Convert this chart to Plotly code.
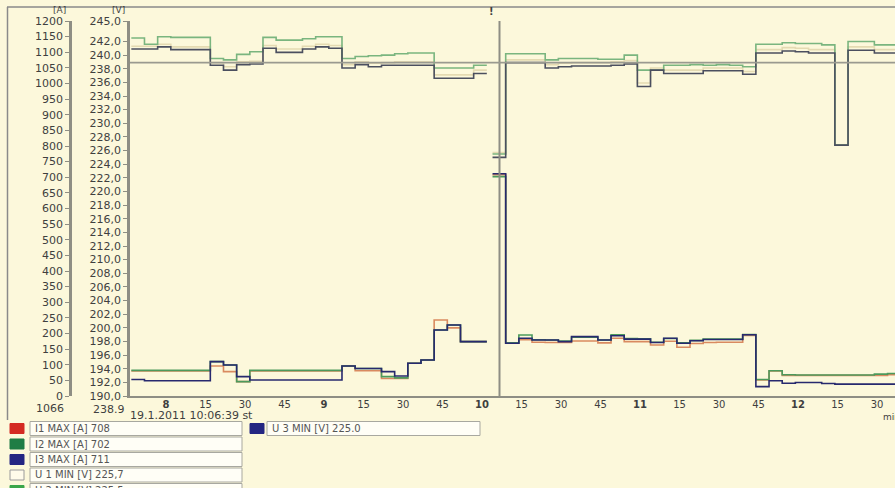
import plotly.graph_objects as go
import pandas as pd

# ---------------- data ----------------
left_start = "2011-01-19 07:46:50"   # first 5-min sample before the gap
right_start = "2011-01-19 10:04:00"  # first 5-min sample after the gap
sample_step = "5min"

# voltages [V] (left block: 27 samples, right block: 31 samples)
U1_left = [241.3, 241.3, 241.6, 241.2, 241.2, 241.2, 238.9, 238.3, 239.0, 239.1, 241.4, 240.9, 240.9, 241.3,
           241.6, 241.4, 238.6, 239.0, 238.8, 238.9, 239.0, 239.0, 239.0, 237.1, 237.1, 237.1, 237.8]
U2_left = [242.5, 241.6, 242.7, 242.6, 242.6, 242.6, 239.5, 239.3, 240.1, 240.5, 242.6, 242.2, 242.2, 242.4,
           242.7, 242.7, 239.5, 239.8, 239.9, 240.0, 240.2, 240.3, 240.3, 238.1, 238.1, 238.1, 238.5]
U3_left = [240.9, 240.9, 241.2, 240.8, 240.8, 240.8, 238.5, 237.8, 238.6, 238.7, 241.0, 240.4, 240.4, 240.9,
           241.2, 241.0, 238.1, 238.6, 238.3, 238.5, 238.5, 238.5, 238.5, 236.6, 236.6, 236.6, 237.3]
U1_right = [225.7, 239.3, 239.3, 239.3, 238.6, 238.8, 238.9, 238.9, 238.9, 239.0, 239.2, 235.9, 238.1, 237.8,
            237.8, 237.8, 238.1, 238.1, 238.1, 237.6, 240.8, 240.8, 241.1, 241.0, 240.8, 240.8, 226.8, 241.2,
            241.2, 240.8, 240.8]
U2_right = [225.5, 240.2, 240.2, 240.2, 239.3, 239.5, 239.5, 239.5, 239.4, 239.4, 240.0, 237.8, 237.8, 238.5,
            238.5, 238.6, 238.5, 238.6, 238.5, 238.3, 241.6, 241.6, 241.8, 241.7, 241.7, 241.5, 226.8, 242.0,
            242.0, 241.5, 241.5]
U3_right = [225.0, 238.9, 238.9, 238.9, 238.1, 238.3, 238.4, 238.4, 238.4, 238.5, 238.7, 235.4, 237.8, 237.3,
            237.3, 237.3, 237.7, 237.7, 237.7, 237.2, 240.3, 240.3, 240.6, 240.5, 240.3, 240.3, 226.8, 240.7,
            240.7, 240.3, 240.3]

# currents [A]
I1_left = [80, 80, 80, 80, 80, 80, 96, 78, 46, 80, 80, 80, 80, 80, 80, 80, 96, 81, 81, 56, 56, 105, 115, 243,
           218, 174, 174]
I2_left = [82, 82, 82, 82, 82, 82, 110, 99, 46, 82, 82, 82, 82, 82, 82, 82, 96, 88, 88, 62, 58, 105, 115, 211,
           227, 174, 174]
I3_left = [53, 49, 49, 49, 49, 49, 110, 99, 62, 51, 51, 51, 51, 51, 51, 51, 96, 88, 88, 78, 64, 105, 115, 211,
           227, 174, 174]
I1_right = [708, 169, 180, 172, 171, 171, 176, 176, 170, 185, 174, 174, 163, 175, 156, 168, 171, 172, 172, 194,
            51, 80, 66, 66, 66, 66, 66, 66, 66, 66, 68]
I2_right = [702, 170, 195, 180, 179, 176, 188, 188, 179, 196, 184, 183, 172, 184, 170, 178, 182, 182, 182, 197,
            53, 81, 68, 67, 67, 67, 67, 67, 67, 70, 72]
I3_right = [711, 169, 185, 179, 179, 174, 190, 190, 179, 193, 182, 182, 171, 185, 169, 177, 181, 181, 181, 196,
            30, 49, 41, 43, 43, 40, 38, 38, 38, 38, 38]

cursor_time = "2011-01-19 10:06:39"
cursor_A = 1066
cursor_V = 238.9
cursor_label = "19.1.2011 10:06:39 st"

legend_names = ["I1 MAX [A]", "I2 MAX [A]", "I3 MAX [A]", "U 1 MIN [V]", "U 2 MIN [V]", "U 3 MIN [V]"]
legend_values = ["708", "702", "711", "225,7", "225,5", "225.0"]
legend_swatch = ["#d42a22", "#1f7d45", "#242682", "#fffbea", "#3aa64a", "#242682"]

x_range = ["2011-01-19 07:46:20", "2011-01-19 12:36:50"]
tick_times = pd.date_range("2011-01-19 08:00", "2011-01-19 12:30", freq="15min")
tick_text = [f"<b>{t.hour}</b>" if t.minute == 0 else str(t.minute) for t in tick_times]
A_ticks = list(range(0, 1201, 50))
V_ticks = list(range(190, 243, 2)) + [245]
V_text = [f"{v:.1f}".replace(".", ",") for v in V_ticks]

# ---------------- layout helpers ----------------
W, H = 895, 488
MT, MB = 21, 92
PLOT_LEFT = 130
A_AXIS_X = 70


def px(x):
    return x / W


def py(y):
    return (H - MB - y) / (H - MT - MB)


BG = "#fcf8db"
AXC = "#8e8e84"
TXT = "#3f3f3f"
FONT = "DejaVu Sans"

lt = pd.date_range(left_start, periods=len(U1_left), freq=sample_step)
rt = pd.date_range(right_start, periods=len(U1_right), freq=sample_step)
step = pd.Timedelta(sample_step)
gap_time = lt[-1] + step + (rt[0] - lt[-1] - step) / 2
xs = list(lt) + [lt[-1] + step, gap_time] + list(rt) + [rt[-1] + step]


def series(left, right):
    return list(left) + [left[-1], None] + list(right) + [right[-1]]


fig = go.Figure()

traces = [
    ("I1", I1_left, I1_right, "#d98a60", "y2"),
    ("I2", I2_left, I2_right, "#4c9a5c", "y2"),
    ("I3", I3_left, I3_right, "#27296e", "y2"),
    ("U1", U1_left, U1_right, "#e4dab2", "y"),
    ("U2", U2_left, U2_right, "#7ab57f", "y"),
    ("U3", U3_left, U3_right, "#4b4f5f", "y"),
]
for name, l, r, c, ax in traces:
    fig.add_trace(go.Scatter(x=xs, y=series(l, r), mode="lines", name=name,
                             line=dict(color=c, width=1.6, shape="hv"),
                             yaxis=ax, connectgaps=False, showlegend=False,
                             hoverinfo="skip"))

shapes = []
# cursor lines
shapes.append(dict(type="line", xref="x", yref="y", x0=cursor_time, x1=cursor_time, y0=190, y1=245,
                   line=dict(color=AXC, width=2)))
shapes.append(dict(type="line", xref="paper", yref="y", x0=px(PLOT_LEFT), x1=1, y0=cursor_V, y1=cursor_V,
                   line=dict(color="#9a9a90", width=1.6)))
# outer frame (top and left)
shapes.append(dict(type="line", xref="paper", yref="paper", x0=px(7), x1=1, y0=py(7), y1=py(7),
                   line=dict(color="#8a8a8a", width=1.5)))
shapes.append(dict(type="line", xref="paper", yref="paper", x0=px(7.5), x1=px(7.5), y0=py(7), y1=py(420),
                   line=dict(color="#8a8a8a", width=1.5)))

annotations = []


def text(x, y, s, size=10, anchor="left", color=TXT, bold=False):
    annotations.append(dict(x=px(x), y=py(y), xref="paper", yref="paper", text=(f"<b>{s}</b>" if bold else s),
                            showarrow=False, xanchor=anchor, yanchor="middle",
                            font=dict(family=FONT, size=size, color=color)))


text(59, 10, "[A]", 9, "center")
text(118, 10, "[V]", 9, "center")
text(491, 11, "!", 10, "center", bold=True)
text(66, 408, str(cursor_A), 11, "right")
text(127, 409, f"{cursor_V}", 11, "right")
text(128, 416, cursor_label, 11, "left")
text(881, 417, "min", 9, "left")

# custom legend
row0, dy = 428.5, 15.5
for i, (nm, val, sw) in enumerate(zip(legend_names, legend_values, legend_swatch)):
    if i < 5:
        row = i
        bx0, bx1 = 30, 242
        sx0, sx1 = 10, 24
    else:
        row = 0
        bx0, bx1 = 267, 480
        sx0, sx1 = 250, 264
    yc = row0 + dy * row
    shapes.append(dict(type="rect", xref="paper", yref="paper", x0=px(sx0), x1=px(sx1),
                       y0=py(yc + 5), y1=py(yc - 5), fillcolor=sw,
                       line=dict(color="#9a9a9a" if sw == "#fffbea" else sw, width=1)))
    shapes.append(dict(type="rect", xref="paper", yref="paper", x0=px(bx0), x1=px(bx1),
                       y0=py(yc + 7), y1=py(yc - 7), fillcolor="#fffef6",
                       line=dict(color="#a8a8a0", width=1)))
    text(bx0 + 3, yc, f"{nm} {val}", 10, "left", color="#555555")

fig.update_layout(
    width=W, height=H,
    margin=dict(l=0, r=0, t=MT, b=MB, pad=0),
    paper_bgcolor=BG, plot_bgcolor=BG,
    shapes=shapes, annotations=annotations,
    xaxis=dict(domain=[px(PLOT_LEFT), 1], range=x_range, type="date",
               tickvals=list(tick_times), ticktext=tick_text, ticks="",
               ticklabelstandoff=-2,
               tickfont=dict(family=FONT, size=10, color=TXT),
               showline=True, linecolor=AXC, linewidth=2, showgrid=False, zeroline=False,
               automargin=False),
    yaxis=dict(range=[190, 245], tickvals=V_ticks, ticktext=V_text, ticks="outside", ticklen=4,
               tickcolor=AXC, tickfont=dict(family=FONT, size=11, color=TXT),
               showline=True, linecolor=AXC, linewidth=2.5, showgrid=False, zeroline=False,
               automargin=False),
    yaxis2=dict(range=[0, 1200], tickvals=A_ticks, overlaying="y", anchor="free", position=px(A_AXIS_X),
                side="left", ticks="outside", ticklen=4, tickcolor=AXC,
                tickfont=dict(family=FONT, size=11, color=TXT),
                showline=True, linecolor=AXC, linewidth=2.5, showgrid=False, zeroline=False,
                automargin=False),
)

fig.write_html("out.html", config={"displayModeBar": False},
               post_script="document.body.style.margin='0px';document.body.style.padding='0px';"
                           "document.body.style.background='" + BG + "';")
